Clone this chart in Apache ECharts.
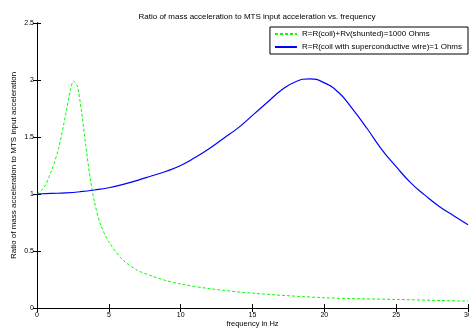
<!DOCTYPE html>
<html>
<head>
<meta charset="utf-8">
<script src="https://cdn.jsdelivr.net/npm/echarts@6/dist/echarts.min.js"></script>
<style>
  html, body { margin: 0; padding: 0; background: #fff; }
  #main { width: 469px; height: 329px; }
</style>
</head>
<body>
<div id="main"></div>
<script>
// values
const freqShunted = [0, 0.5, 1, 1.5, 2, 2.3, 2.55, 2.8, 3.1, 3.4, 3.7, 4, 4.4, 5, 6, 7, 8, 9, 10, 12, 15, 20, 25, 30];
const ratioShunted = [1.0, 1.06, 1.2, 1.4, 1.7, 1.9, 1.99, 1.95, 1.72, 1.42, 1.14, 0.93, 0.74, 0.58, 0.42, 0.33, 0.28, 0.24, 0.21, 0.17, 0.13, 0.09, 0.075, 0.06];

const freqSuper = [0, 1, 2, 3, 4, 5, 6, 7, 8, 9, 10, 11, 12, 13, 14, 15, 16, 17, 18, 19, 20, 21, 22, 23, 24, 25, 26, 27, 28, 29, 30];
const ratioSuper = [1.0, 1.005, 1.01, 1.02, 1.035, 1.055, 1.085, 1.12, 1.16, 1.2, 1.25, 1.32, 1.4, 1.49, 1.58, 1.69, 1.8, 1.91, 1.985, 2.01, 1.975, 1.89, 1.74, 1.57, 1.39, 1.24, 1.1, 0.99, 0.89, 0.81, 0.73];

const seriesNames = ['R=R(coil)+Rv(shunted)=1000 Ohms', 'R=R(coil with superconductive wire)=1 Ohms'];

const pairs = (xs, ys) => xs.map((x, i) => [x, ys[i]]);

const chart = echarts.init(document.getElementById('main'));
const font = 'Liberation Sans, Arial, sans-serif';

const hiddenAxis = {
  axisLine: { show: true, lineStyle: { color: '#000', width: 1 } },
  axisTick: { show: true, inside: true, length: 4, lineStyle: { color: '#000' } },
  axisLabel: { show: false },
  splitLine: { show: false }
};

chart.setOption({
  animation: false,
  textStyle: { fontFamily: font },
  title: {
    text: 'Ratio of mass acceleration to MTS input acceleration vs. frequency',
    left: 252, textAlign: 'center', top: 8,
    textStyle: { fontSize: 8, fontWeight: 'normal', color: '#000', fontFamily: font }
  },
  grid: { left: 37, right: 1, top: 23, bottom: 21, outerBoundsMode: 'none' },
  legend: {
    orient: 'vertical',
    right: 1, top: 27,
    padding: [3, 6, 3, 4],
    itemGap: 5,
    itemWidth: 22, itemHeight: 8,
    backgroundColor: '#fff',
    borderColor: '#000', borderWidth: 1,
    itemStyle: { opacity: 0 },
    textStyle: { fontSize: 8, color: '#000', fontFamily: font },
    data: seriesNames
  },
  xAxis: [{
    type: 'value', min: 0, max: 30, interval: 5,
    name: 'frequency in Hz', nameLocation: 'middle', nameGap: 12,
    nameMoveOverlap: false,
    nameTextStyle: { fontSize: 7.5, color: '#000' },
    axisLine: { show: true, onZero: false, lineStyle: { color: '#000', width: 1 } },
    axisTick: { show: true, inside: true, length: 4, lineStyle: { color: '#000' } },
    axisLabel: { fontSize: 7, color: '#000', margin: 4 },
    splitLine: { show: false }
  }, Object.assign({ type: 'value', min: 0, max: 30, interval: 5, position: 'top' }, hiddenAxis)],
  yAxis: [{
    type: 'value', min: 0, max: 2.5, interval: 0.5,
    name: 'Ratio of mass acceleration to MTS input acceleration',
    nameLocation: 'middle', nameGap: 19,
    nameMoveOverlap: false,
    nameTextStyle: { fontSize: 8, color: '#000' },
    axisLine: { show: true, onZero: false, lineStyle: { color: '#000', width: 1 } },
    axisTick: { show: true, inside: true, length: 4, lineStyle: { color: '#000' } },
    axisLabel: { fontSize: 7, color: '#000', margin: 3 },
    splitLine: { show: false }
  }, Object.assign({ type: 'value', min: 0, max: 2.5, interval: 0.5, position: 'right' }, hiddenAxis)],
  series: [{
    name: seriesNames[0],
    type: 'line',
    smooth: 0.3,
    symbol: 'none',
    color: '#00ff00',
    lineStyle: { color: '#00ff00', width: 1, type: [3, 2] },
    data: pairs(freqShunted, ratioShunted)
  }, {
    name: seriesNames[1],
    type: 'line',
    smooth: 0.5,
    symbol: 'none',
    color: '#0000ff',
    lineStyle: { color: '#0000ff', width: 1.2 },
    data: pairs(freqSuper, ratioSuper)
  }]
});
</script>
</body>
</html>
